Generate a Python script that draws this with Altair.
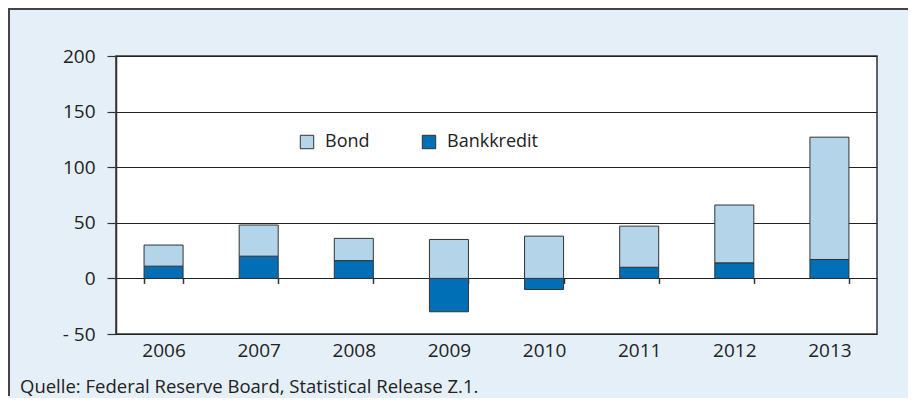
import altair as alt
import pandas as pd

years = ["2006", "2007", "2008", "2009", "2010", "2011", "2012", "2013"]
bond = [19, 28, 20, 35, 38, 37, 52, 110]
bankkredit = [11, 20, 16, -30, -10, 10, 14, 17]
series = ["Bond", "Bankkredit"]
colors = ["#b3d4e9", "#006fb6"]
y_ticks = [-50, 0, 50, 100, 150, 200]
source = "Quelle: Federal Reserve Board, Statistical Release Z.1."

rows = []
for i, yr in enumerate(years):
    rows.append({"year": yr, "series": "Bankkredit", "value": bankkredit[i], "ord": 0})
    rows.append({"year": yr, "series": "Bond", "value": bond[i], "ord": 1})
df = pd.DataFrame(rows)

FONT = "Open Sans"
W, H = 761, 278
zero_offset = -H * 50 / 250

bars = alt.Chart(df).mark_bar(stroke="#333333", strokeWidth=1).encode(
    x=alt.X("year:N", sort=years,
            scale=alt.Scale(paddingInner=0.59, paddingOuter=0.295),
            axis=alt.Axis(title=None, orient="bottom", offset=zero_offset,
                          domain=False, ticks=True, tickBand="extent",
                          tickSize=5, tickColor="#333333", tickWidth=1.5,
                          labelPadding=58, labelFontSize=19, labelColor="#222222",
                          labelFont=FONT, labelAngle=0)),
    y=alt.Y("value:Q", stack="zero",
            scale=alt.Scale(domain=[-50, 200], nice=False, zero=False),
            axis=alt.Axis(title=None, values=y_ticks, grid=True, gridColor="#222222",
                          gridWidth=1.2, domainColor="#333333", domainWidth=1.5,
                          tickColor="#333333", tickSize=9, tickWidth=1.2,
                          labelPadding=12, labelFontSize=19, labelColor="#222222",
                          labelFont=FONT,
                          labelExpr="datum.value < 0 ? '- ' + abs(datum.value) : datum.label")),
    color=alt.Color("series:N", scale=alt.Scale(domain=series, range=colors),
                    legend=alt.Legend(title=None, orient="none", direction="horizontal",
                                      legendX=182, legendY=77, symbolType="square",
                                      symbolSize=180, symbolStrokeColor="#333333",
                                      symbolStrokeWidth=1, labelFontSize=18,
                                      labelFont=FONT, labelColor="#222222",
                                      columnPadding=50, labelOffset=9)),
    order=alt.Order("ord:Q"),
)

top_border = alt.Chart(df).mark_rule(color="#444444", strokeWidth=2).encode(
    x=alt.value(-110), x2=alt.value(W + 40), y=alt.value(-47)
)
left_border = alt.Chart(df).mark_rule(color="#444444", strokeWidth=2).encode(
    x=alt.value(-107), y=alt.value(-48), y2=alt.value(H + 62)
)
source_text = alt.Chart(pd.DataFrame({"t": [source]})).mark_text(
    align="left", baseline="alphabetic", fontSize=18.5, font=FONT, color="#222222"
).encode(text="t:N", x=alt.value(-96), y=alt.value(H + 59))

chart = alt.layer(bars, top_border, left_border, source_text).properties(
    width=W, height=H,
    autosize=alt.AutoSizeParams(type="none"),
    padding={"left": 108, "top": 48, "right": 31, "bottom": 64},
    background="#e4eff7",
).configure_view(fill="white", stroke="#333333", strokeWidth=1.5)

chart.save("out.html", embed_options={"renderer": "svg", "actions": False})
